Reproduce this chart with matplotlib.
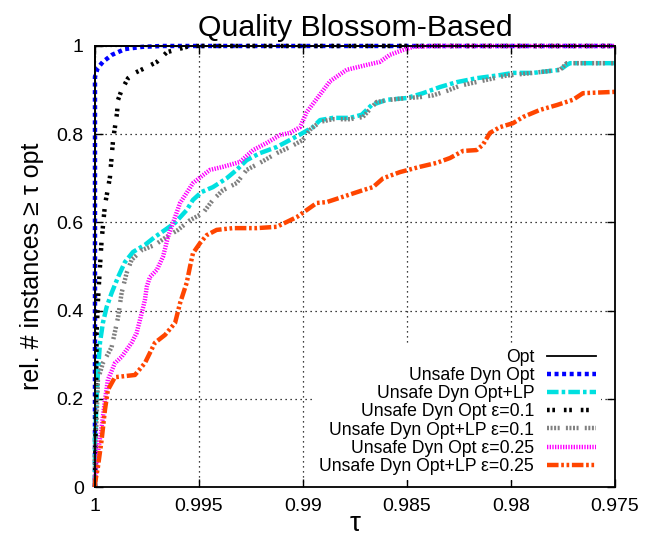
import matplotlib
matplotlib.use("Agg")
import matplotlib.pyplot as plt
from matplotlib.ticker import FormatStrFormatter

plt.rcParams['font.family'] = ['Liberation Sans', 'DejaVu Sans']

# tau values (x, reversed axis) and fraction of instances (y)
opt_tau = [1.0, 1.0, 0.975]
opt_y = [0.0, 1.0, 1.0]

dyn_tau = [1.0, 1.0, 1.0, 0.99987, 0.99962, 0.99918, 0.99856, 0.99774, 0.99678, 0.975]
dyn_y = [0.0, 0.5, 0.93, 0.95, 0.964, 0.98, 0.993, 0.998, 1.0, 1.0]

dynlp_tau = [1.0, 1.0, 0.99992, 0.99986, 0.99976, 0.99962, 0.99944, 0.9992, 0.99889,
             0.99856, 0.99817, 0.9976, 0.99712, 0.99663, 0.99615, 0.99559, 0.99529,
             0.99487, 0.99433, 0.99367, 0.99319, 0.99271, 0.99207, 0.99126, 0.99062,
             0.99, 0.98952, 0.98918, 0.98856, 0.98774, 0.98718, 0.9867, 0.98598,
             0.98501, 0.98423, 0.98341, 0.98261, 0.98165, 0.98053, 0.9799, 0.97894,
             0.97764, 0.97732, 0.97716, 0.975]
dynlp_y = [0.0, 0.107, 0.197, 0.258, 0.327, 0.372, 0.408, 0.44, 0.476, 0.51, 0.533,
           0.549, 0.567, 0.583, 0.599, 0.628, 0.651, 0.669, 0.68, 0.70, 0.719, 0.741,
           0.757, 0.771, 0.787, 0.803, 0.816, 0.832, 0.837, 0.837, 0.844, 0.866, 0.878,
           0.882, 0.893, 0.907, 0.918, 0.927, 0.934, 0.939, 0.939, 0.946, 0.957, 0.961,
           0.961]

dyn01_tau = [1.0, 0.99995, 0.99992, 0.99986, 0.99976, 0.99968, 0.99952, 0.99939,
             0.99928, 0.9992, 0.99913, 0.99904, 0.99894, 0.99889, 0.99872, 0.99841,
             0.99808, 0.9976, 0.99702, 0.99654, 0.99582, 0.99543, 0.975]
dyn01_y = [0.0, 0.2, 0.35, 0.42, 0.5, 0.56, 0.64, 0.673, 0.703, 0.748, 0.787, 0.816,
           0.848, 0.878, 0.9, 0.927, 0.939, 0.95, 0.964, 0.986, 0.995, 1.0, 1.0]

dynlp01_tau = [1.0, 1.0, 0.99992, 0.99986, 0.99962, 0.9992, 0.99889, 0.99872, 0.99848,
               0.99824, 0.99775, 0.99712, 0.99663, 0.99601, 0.99543, 0.99481, 0.99433,
               0.99385, 0.99319, 0.99271, 0.99207, 0.99126, 0.99062, 0.99, 0.98966,
               0.98918, 0.98856, 0.98774, 0.98712, 0.98646, 0.98582, 0.98501, 0.98438,
               0.98375, 0.98309, 0.98245, 0.98149, 0.98021, 0.97894, 0.97764, 0.97732,
               0.975]
dynlp01_y = [0.0, 0.077, 0.159, 0.243, 0.281, 0.317, 0.385, 0.44, 0.485, 0.515, 0.537,
             0.549, 0.565, 0.583, 0.605, 0.621, 0.651, 0.673, 0.689, 0.719, 0.735,
             0.757, 0.771, 0.787, 0.81, 0.828, 0.834, 0.834, 0.839, 0.873, 0.878,
             0.882, 0.884, 0.888, 0.898, 0.91, 0.92, 0.933, 0.939, 0.946, 0.961, 0.961]

dyn025_tau = [1.0, 1.0, 0.99986, 0.99968, 0.99952, 0.99938, 0.99904, 0.99872, 0.99824,
              0.998, 0.99775, 0.9976, 0.99751, 0.99736, 0.99703, 0.99673, 0.99649,
              0.99615, 0.99591, 0.99559, 0.99529, 0.99481, 0.99447, 0.99385, 0.99303,
              0.9924, 0.99175, 0.99111, 0.99062, 0.99014, 0.98982, 0.98934, 0.9887,
              0.9879, 0.98694, 0.9863, 0.98582, 0.98519, 0.98471, 0.98375, 0.975]
dyn025_y = [0.0, 0.016, 0.077, 0.136, 0.197, 0.243, 0.281, 0.295, 0.327, 0.349, 0.395,
            0.424, 0.454, 0.476, 0.492, 0.522, 0.567, 0.612, 0.644, 0.667, 0.689, 0.707,
            0.719, 0.726, 0.737, 0.764, 0.78, 0.798, 0.803, 0.816, 0.85, 0.88, 0.92,
            0.946, 0.957, 0.964, 0.98, 0.991, 0.998, 1.0, 1.0]

dynlp025_tau = [1.0, 1.0, 0.99986, 0.99968, 0.99952, 0.99938, 0.99904, 0.99808, 0.9976,
                0.99712, 0.99663, 0.99615, 0.99591, 0.99559, 0.99543, 0.99529, 0.99495,
                0.99463, 0.99415, 0.99337, 0.99223, 0.99126, 0.99078, 0.9903, 0.98982,
                0.98934, 0.98886, 0.98808, 0.98712, 0.98663, 0.98615, 0.98534, 0.98438,
                0.98357, 0.98293, 0.98231, 0.98165, 0.98135, 0.98101, 0.98053, 0.9799,
                0.97942, 0.97861, 0.9778, 0.97702, 0.97654, 0.975]
dynlp025_y = [0.0, 0.009, 0.045, 0.107, 0.175, 0.22, 0.249, 0.254, 0.281, 0.327, 0.345,
              0.372, 0.417, 0.463, 0.5, 0.53, 0.553, 0.571, 0.583, 0.587, 0.587, 0.59,
              0.601, 0.612, 0.628, 0.644, 0.646, 0.658, 0.673, 0.68, 0.70, 0.714, 0.726,
              0.735, 0.746, 0.762, 0.764, 0.776, 0.803, 0.816, 0.825, 0.839, 0.855,
              0.866, 0.878, 0.893, 0.896]

x_ticks = [1.0, 0.995, 0.99, 0.985, 0.98, 0.975]
y_ticks = [0, 0.2, 0.4, 0.6, 0.8, 1.0]

fig = plt.figure(figsize=(6.47, 5.41), dpi=100)
ax = fig.add_axes([0.1468, 0.0998, 0.8037, 0.8152])

lw = 3.2
ax.plot(opt_tau, opt_y, color='black', lw=1.3, label='Opt', clip_on=False)
ax.plot(dyn_tau, dyn_y, color='#0000ff', lw=lw, dashes=(0.9, 0.8),
        label='Unsafe Dyn Opt', clip_on=False)
ax.plot(dynlp_tau, dynlp_y, color='#00e0e0', lw=lw, dashes=(2.6, 0.7, 0.8, 0.7),
        label='Unsafe Dyn Opt+LP', clip_on=False)
ax.plot(dyn01_tau, dyn01_y, color='black', lw=lw, dashes=(0.6, 0.6, 0.6, 2.0),
        label='Unsafe Dyn Opt ε=0.1', clip_on=False)
ax.plot(dynlp01_tau, dynlp01_y, color='#808080', lw=lw,
        dashes=(0.45, 0.35, 0.45, 0.35, 0.45, 0.35, 0.45, 1.4),
        label='Unsafe Dyn Opt+LP ε=0.1', clip_on=False)
ax.plot(dyn025_tau, dyn025_y, color='#ff00ff', lw=lw, dashes=(0.3, 0.3),
        label='Unsafe Dyn Opt ε=0.25', clip_on=False)
ax.plot(dynlp025_tau, dynlp025_y, color='#ff4500', lw=lw,
        dashes=(2.6, 0.6, 0.6, 0.6, 0.6, 0.6),
        label='Unsafe Dyn Opt+LP ε=0.25', clip_on=False)

ax.set_xlim(1.0, 0.975)
ax.set_ylim(0, 1)
ax.set_xticks(x_ticks)
ax.set_yticks(y_ticks)
ax.xaxis.set_major_formatter(FormatStrFormatter('%g'))
ax.yaxis.set_major_formatter(FormatStrFormatter('%g'))
ax.tick_params(direction='in', length=6, width=1, labelsize=14,
               top=True, right=True, pad=8)
for s in ax.spines.values():
    s.set_linewidth(1.3)
ax.grid(True, color='black', linestyle=(0, (1, 3)), lw=0.9)
ax.set_axisbelow(True)

ax.set_title('Quality Blossom-Based', fontsize=21.8, pad=7)
ax.set_xlabel('τ', fontsize=20, labelpad=-3)
ax.set_ylabel('rel. # instances ≥ τ opt', fontsize=18, labelpad=9)

leg = ax.legend(loc='lower right', bbox_to_anchor=(0.982, 0.005), frameon=True,
                fontsize=12.7, markerfirst=False, handlelength=2.8,
                handletextpad=0.7, labelspacing=0.07, borderpad=0.3,
                borderaxespad=0.25)
leg.get_frame().set_edgecolor('none')
leg.get_frame().set_facecolor('white')
leg.get_frame().set_alpha(1)
leg._legend_box._children[-1]._children[0].align = 'right'

fig.savefig('out.png', dpi=100)
